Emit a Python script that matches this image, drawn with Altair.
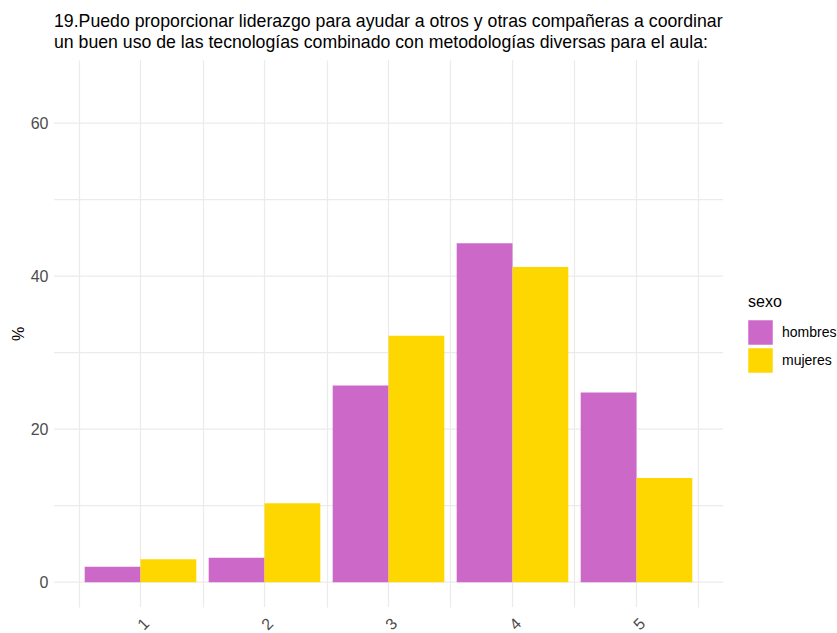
import altair as alt
import pandas as pd

# Survey answers (Likert 1-5) by sex, in percent
categorias = ["1", "2", "3", "4", "5"]
hombres = [2.0, 3.2, 25.7, 44.3, 24.8]
mujeres = [3.0, 10.3, 32.2, 41.2, 13.6]
grupos = ["hombres", "mujeres"]
colores = ["#CC68C8", "#FFD700"]

titulo = [
    "19.Puedo proporcionar liderazgo para ayudar a otros y otras compañeras a coordinar",
    "un buen uso de las tecnologías combinado con metodologías diversas para el aula:",
]

y_major = [0, 20, 40, 60]
y_grid = [0, 10, 20, 30, 40, 50, 60]

FONT = "Liberation Sans Narrow, Liberation Sans, Arial"
W, H = 669, 547
GRID = "#EBEBEB"

df = pd.DataFrame(
    [{"respuesta": c, "sexo": "hombres", "pct": v} for c, v in zip(categorias, hombres)]
    + [{"respuesta": c, "sexo": "mujeres", "pct": v} for c, v in zip(categorias, mujeres)]
)
df_cat = pd.DataFrame({"respuesta": categorias})
df_grid = pd.DataFrame({"y": y_grid})

x_scale = alt.Scale(domain=categorias, paddingInner=0, paddingOuter=0.1976)
y_scale = alt.Scale(domain=[-3.25, 68.25], nice=False, zero=False)

x_axis = alt.Axis(
    title=None, domain=False, ticks=False, grid=True, tickBand="extent",
    gridColor=GRID, gridWidth=1.2, labelAngle=-45, labelFontSize=16,
    labelColor="#4D4D4D", labelFont=FONT, labelPadding=8,
)

# horizontal grid lines (major and minor)
hgrid = alt.Chart(df_grid).mark_rule(color=GRID, strokeWidth=1.2).encode(
    y=alt.Y("y:Q", scale=y_scale),
    x=alt.value(0),
    x2=alt.value(W),
)

# vertical grid lines at each category centre
vgrid = alt.Chart(df_cat).mark_rule(color=GRID, strokeWidth=1.2).encode(
    x=alt.X("respuesta:O", scale=x_scale, axis=x_axis),
    y=alt.value(0),
    y2=alt.value(H),
)

bars = alt.Chart(df).mark_bar().encode(
    x=alt.X("respuesta:O", scale=x_scale, axis=x_axis),
    xOffset=alt.XOffset("sexo:N", scale=alt.Scale(domain=grupos, paddingOuter=0.111, paddingInner=0)),
    y=alt.Y(
        "pct:Q", scale=y_scale, stack=None,
        axis=alt.Axis(
            values=y_major, title="%", grid=False, domain=False, ticks=False,
            labelFontSize=16, labelColor="#4D4D4D", labelFont=FONT, labelPadding=6,
            titleFontSize=16, titleFont=FONT, titleFontWeight="normal", titleColor="black",
            titlePadding=4,
        ),
    ),
    color=alt.Color(
        "sexo:N",
        scale=alt.Scale(domain=grupos, range=colores),
        legend=alt.Legend(
            title="sexo", orient="none", legendX=694, legendY=234,
            symbolType="square", symbolSize=600, symbolStrokeWidth=0,
            symbolOpacity=1, rowPadding=3,
            titleFontSize=16, titleFont=FONT, titleFontWeight="normal", titleColor="black",
            titlePadding=10, labelFontSize=14, labelFont=FONT, labelColor="black",
            labelOffset=9,
        ),
    ),
)

chart = (
    alt.layer(hgrid, vgrid, bars)
    .properties(
        width=W,
        height=H,
        title=alt.TitleParams(
            text=titulo, anchor="start", frame="group", font=FONT, fontSize=17.7,
            fontWeight="normal", color="black", offset=8, lineHeight=21,
        ),
        autosize=alt.AutoSizeParams(type="none"),
        padding={"left": 54, "top": 60, "right": 114, "bottom": 26},
    )
    .configure_view(stroke=None)
)

chart.save("out.html", embed_options={"renderer": "svg", "actions": False})
